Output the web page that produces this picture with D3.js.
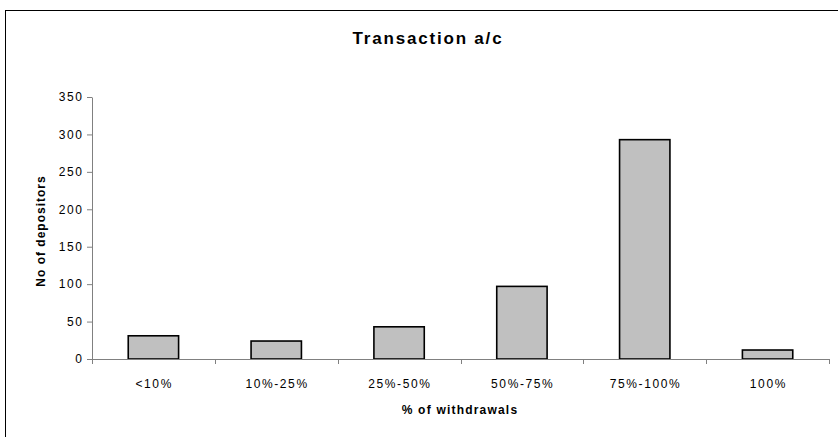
<!DOCTYPE html>
<html>
<head>
<meta charset="utf-8">
<script src="https://cdn.jsdelivr.net/npm/d3@7"></script>
<style>
  body { margin: 0; background: #fff; }
  svg { display: block; font-family: "Liberation Sans", Arial, sans-serif; }
  .axis path, .axis line { stroke: #808080; }
  .axis text { fill: #000; font-size: 12px; letter-spacing: 1.6px; }
</style>
</head>
<body>
<svg id="chart" width="838" height="437"></svg>
<script>
var categories = ["<10%", "10%-25%", "25%-50%", "50%-75%", "75%-100%", "100%"];
var depositors = [31, 24, 43, 97, 293, 12];
var yTicks = [0, 50, 100, 150, 200, 250, 300, 350];

var WID = 838, HGT = 437;
var margin = {top: 97, right: 9, bottom: 78, left: 92};
var width = WID - margin.left - margin.right;
var height = HGT - margin.top - margin.bottom;

var svg = d3.select("#chart");

// outer chart-area frame (runs off the right and bottom edges)
svg.append("rect")
    .attr("x", 5.5).attr("y", 10.5)
    .attr("width", 845).attr("height", 460)
    .attr("fill", "none")
    .attr("stroke", "#000")
    .attr("stroke-width", 1);

svg.append("text")
    .attr("x", 428).attr("y", 44)
    .attr("text-anchor", "middle")
    .style("font-size", "17px")
    .style("font-weight", "bold")
    .style("letter-spacing", "1.8px")
    .text("Transaction a/c");

var g = svg.append("g")
    .attr("transform", "translate(" + margin.left + "," + margin.top + ")");

var x = d3.scaleBand().domain(categories).range([0, width]).paddingInner(0.59).paddingOuter(0.295);
var band = d3.scaleBand().domain(categories).range([0, width]);
var y = d3.scaleLinear().domain([0, 350]).range([height, 0]);

g.selectAll(".bar")
  .data(depositors)
  .enter().append("rect")
    .attr("class", "bar")
    .attr("x", function (d, i) { return x(categories[i]); })
    .attr("y", function (d) { return y(d); })
    .attr("width", x.bandwidth())
    .attr("height", function (d) { return height - y(d); })
    .attr("fill", "#c0c0c0")
    .attr("stroke", "#000")
    .attr("stroke-width", 1.6);

// x axis: ticks on band boundaries, labels in band centres
var xAxis = g.append("g")
    .attr("class", "axis axis--x")
    .attr("transform", "translate(0," + height + ")");
xAxis.append("line")
    .attr("x1", 0).attr("x2", width)
    .attr("y1", 0.5).attr("y2", 0.5);
var bounds = categories.map(function (c) { return band(c); }).concat([width]);
xAxis.selectAll(".tk")
  .data(bounds)
  .enter().append("line")
    .attr("class", "tk")
    .attr("x1", function (d) { return Math.round(d) + 0.5; })
    .attr("x2", function (d) { return Math.round(d) + 0.5; })
    .attr("y1", 0).attr("y2", 5);
xAxis.selectAll(".lbl")
  .data(categories)
  .enter().append("text")
    .attr("class", "lbl")
    .attr("x", function (d) { return band(d) + band.bandwidth() / 2 + 0.8; })
    .attr("y", 29)
    .attr("text-anchor", "middle")
    .text(function (d) { return d; });

g.append("g")
    .attr("class", "axis axis--y")
    .call(d3.axisLeft(y).tickValues(yTicks).tickSize(5).tickSizeOuter(0).tickPadding(3.5));

svg.append("text")
    .attr("x", 460).attr("y", 414)
    .attr("text-anchor", "middle")
    .style("font-size", "12px")
    .style("font-weight", "bold")
    .style("letter-spacing", "1.2px")
    .text("% of withdrawals");

svg.append("text")
    .attr("transform", "translate(45," + 231 + ") rotate(-90)")
    .attr("text-anchor", "middle")
    .style("font-size", "12px")
    .style("font-weight", "bold")
    .style("letter-spacing", "1px")
    .text("No of depositors");
</script>
</body>
</html>
